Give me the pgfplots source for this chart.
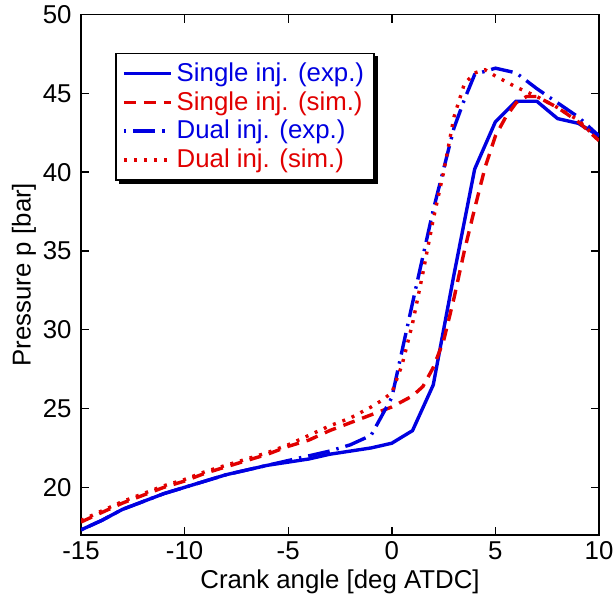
\documentclass[border=0pt]{standalone}
\usepackage{pgfplots}
\pgfplotsset{compat=1.18}
\usepackage{fontspec}
\setmainfont{Liberation Sans}
\definecolor{mblue}{RGB}{0,0,225}
\definecolor{mred}{RGB}{225,0,0}
\pgfdeclarelayer{bg}
\pgfsetlayers{bg,main}
\begin{document}
\begin{tikzpicture}
\begin{axis}[
 scale only axis, width=259pt, height=260pt,
 xmin=-15, xmax=10, ymin=17, ymax=50,
 xtick={-15,-10,...,10}, ytick={20,25,...,50},
 tick align=inside, tick pos=both, major tick length=4pt,
 axis line style={line width=0.9pt}, tick style={black, line width=0.7pt},
 font=\fontsize{12.9}{15}\selectfont,
 /pgf/number format/assume math mode=true,
 yticklabel style={xshift=-1.2pt},
 xlabel={Crank angle [deg ATDC]}, ylabel={Pressure p [bar]},
 xlabel style={yshift=2pt}, ylabel style={yshift=-3.5pt},
 legend cell align=left,
 legend style={name=leg, at={(axis description cs:0.066,0.927)}, anchor=north west,
   draw=black, line width=0.9pt, fill=white, inner xsep=3pt, inner ysep=2.5pt, row sep=-0.4pt},
 legend image code/.code={\draw[#1] (0cm,0cm) -- (0.83cm,0cm);},
]
\addplot[mblue, line width=1.7pt] coordinates {
(-15,17.3) (-14,17.9) (-13,18.6) (-12,19.1) (-11,19.6) (-10,20.0) (-9,20.4) (-8,20.8)
(-7,21.1) (-6,21.4) (-5,21.6) (-4,21.8) (-3,22.1) (-2,22.3) (-1,22.5) (0,22.8)
(1,23.6) (2,26.5) (3,33.5) (4,40.2) (5,43.2) (6,44.5) (7,44.5) (8,43.4) (9,43.1) (10,42.3)};
\addlegendentry{\textcolor{mblue}{Single inj. (exp.)}}
\addplot[mred, line width=1.7pt, dash pattern=on 6pt off 4pt] coordinates {
(-15,17.8) (-14,18.4) (-13,19.0) (-12,19.5) (-11,20.0) (-10,20.4) (-9,20.9) (-8,21.3)
(-7,21.7) (-6,22.1) (-5,22.6) (-4,23.0) (-3,23.6) (-2,24.1) (-1,24.6) (0,25.1)
(1,25.8) (1.5,26.4) (2,27.6) (2.5,29.3) (3,32.0) (3.5,35.0) (4,37.7) (4.5,40.3) (5,42.3) (5.5,43.5) (6,44.4) (6.5,44.8) (7,44.8) (8,44.1) (9,43.2) (10,42.0)};
\addlegendentry{\textcolor{mred}{Single inj. (sim.)}}
\addplot[mblue, line width=1.7pt, dash pattern=on 1.2pt off 3.5pt on 11pt off 3.5pt] coordinates {
(-15,17.3) (-14,17.9) (-13,18.6) (-12,19.1) (-11,19.6) (-10,20.0) (-9,20.4) (-8,20.8)
(-7,21.1) (-6,21.4) (-5,21.7) (-4,22.0) (-3,22.3) (-2,22.7) (-1,23.3) (0,25.7)
(1,31.7) (2,37.6) (3,42.8) (3.5,44.6) (4,46.2) (5,46.6) (6,46.3) (7,45.3) (8,44.4) (9,43.5) (10,42.3)};
\addlegendentry{\textcolor{mblue}{Dual inj. (exp.)}}
\addplot[mred, line width=1.7pt, dash pattern=on 1.5pt off 3.5pt] coordinates {
(-15,17.9) (-14,18.5) (-13,19.1) (-12,19.6) (-11,20.1) (-10,20.5) (-9,21.0) (-8,21.4)
(-7,21.8) (-6,22.2) (-5,22.7) (-4,23.3) (-3,23.9) (-2,24.4) (-1,25.1) (-0.5,25.5) (0,26.0)
(0.5,27.8) (1,30.4) (1.5,33.6) (2,37.0) (2.5,40.0) (3,43.5) (3.5,45.6) (4,46.3) (4.5,46.5) (5,46.1) (6,45.4) (7,44.8) (8,44.1) (9,43.3) (10,42.0)};
\addlegendentry{\textcolor{mred}{Dual inj. (sim.)}}
\end{axis}
\begin{pgfonlayer}{bg}
\fill[black] ([shift={(1.7pt,-1.7pt)}]leg.south west) rectangle ([shift={(1.7pt,-1.7pt)}]leg.north east);
\end{pgfonlayer}
\pgfresetboundingbox
\path ([shift={(-40.5pt,-32.5pt)}]current axis.south west) rectangle ([shift={(7pt,7.3pt)}]current axis.north east);
\end{tikzpicture}
\end{document}
